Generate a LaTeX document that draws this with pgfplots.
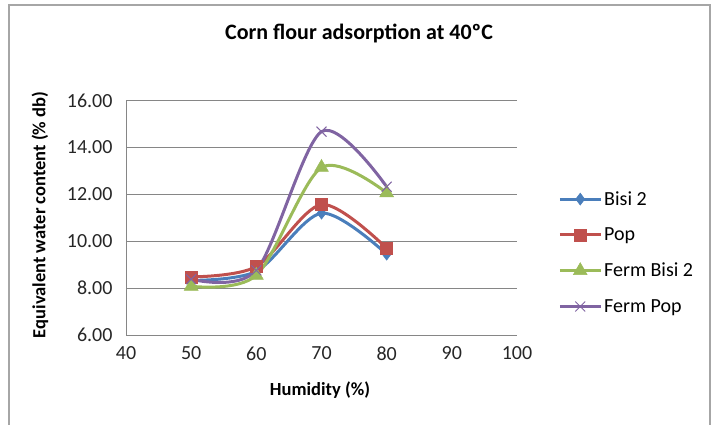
\documentclass[border=0pt]{standalone}
\usepackage{pgfplots}
\pgfplotsset{compat=1.18}
\usepackage{fontspec}
\setmainfont{Carlito}
\definecolor{cBisi}{HTML}{4A7EBB}
\definecolor{cPop}{HTML}{C0504D}
\definecolor{cFBisi}{HTML}{9BBB59}
\definecolor{cFPop}{HTML}{8064A2}
\definecolor{cGrid}{HTML}{868686}
\definecolor{cBorder}{HTML}{A6A6A6}
\begin{document}
\begin{tikzpicture}[x=1pt,y=1pt]
\useasboundingbox (0,0) rectangle (717,424);
\draw[cBorder, line width=1.5pt] (9,-5) -- (9,419) -- (710,419) -- (710,-5);
\begin{axis}[
  at={(126pt,89pt)}, anchor=south west,
  scale only axis, width=391pt, height=234.3pt,
  xmin=40, xmax=100, ymin=6, ymax=16,
  xtick={40,50,...,100}, ytick={6,8,...,16},
  axis x line=bottom, axis y line=left,
  axis line style={draw=cGrid, line width=0.8pt, -},
  ymajorgrids, grid style={draw=cGrid, line width=0.8pt},
  major tick length=0pt,
  tick label style={font=\fontsize{20}{24}\selectfont, text=black!85},
  /pgf/number format/assume math mode=true,
  yticklabel style={/pgf/number format/.cd, fixed, fixed zerofill, precision=2, /tikz/.cd, xshift=-10pt},
  xticklabel style={yshift=-8pt},
  legend style={at={(1.105,0.622)}, anchor=north west, draw=none, fill=none,
    font=\fontsize{20}{24}\selectfont, row sep=17pt, inner sep=0pt},
  legend cell align=left,
  legend image code/.code={
    \draw[mark repeat=2, mark phase=2, #1] plot coordinates {(0cm,0cm) (0.72cm,0cm) (1.44cm,0cm)};
  },
]
\addplot[cBisi, line width=3pt, smooth, mark=diamond*, mark size=6pt, mark options={fill=cBisi, line width=0.5pt}]
  coordinates {(50,8.33) (60,8.72) (70,11.2) (80,9.45)};
\addlegendentry{Bisi 2}
\addplot[cPop, line width=3pt, smooth, mark=square*, mark size=6pt, mark options={fill=cPop, line width=0.5pt}]
  coordinates {(50,8.48) (60,8.92) (70,11.57) (80,9.7)};
\addlegendentry{Pop}
\addplot[cFBisi, line width=3pt, smooth, mark=triangle*, mark size=8pt, mark options={fill=cFBisi, line width=0.5pt}]
  coordinates {(50,8.08) (60,8.55) (70,13.15) (80,12.07)};
\addlegendentry{Ferm Bisi 2}
\addplot[cFPop, line width=3pt, smooth, mark=x, mark size=7pt, mark options={line width=1pt}]
  coordinates {(50,8.38) (60,8.76) (70,14.68) (80,12.33)};
\addlegendentry{Ferm Pop}
\end{axis}
\node[font=\bfseries\fontsize{22}{26}\selectfont] at (359,391) {Corn flour adsorption at 40ºC};
\node[font=\bfseries\fontsize{18.5}{22}\selectfont, rotate=90] at (40,209) {Equivalent water content (\% db)};
\node[font=\bfseries\fontsize{18.5}{22}\selectfont] at (320,34) {Humidity (\%)};
\end{tikzpicture}
\end{document}
